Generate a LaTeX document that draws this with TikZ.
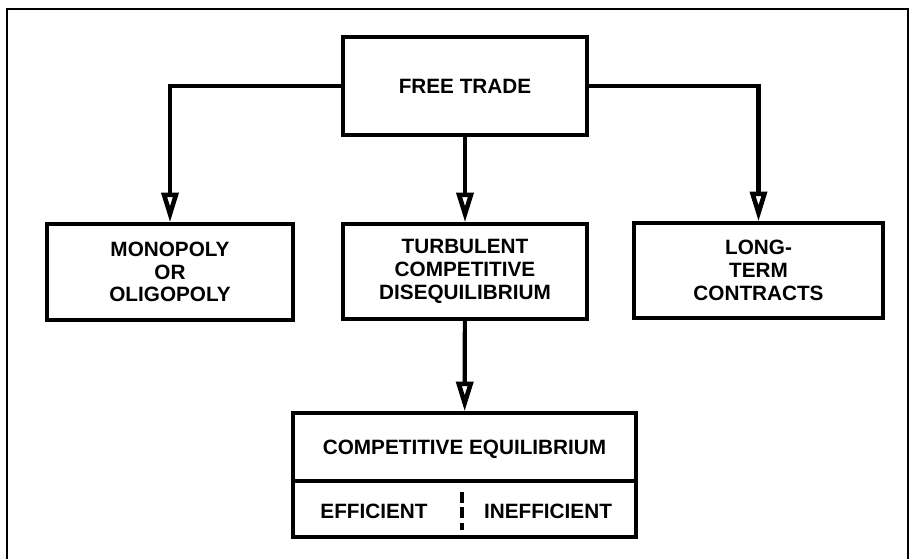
\documentclass[tikz,border=0pt]{standalone}
\usepackage{fontspec}
\setmainfont{Liberation Sans}
\usepackage{tikz}
\usetikzlibrary{arrows, arrows.meta}
\tikzset{block/.style = {shape = rectangle, draw, line width = 1.8pt, align = center, font = \bfseries\fontsize{11.8}{13}\selectfont}}
\tikzset{label/.style = {font = \bfseries\fontsize{11.8}{13}\selectfont}}
\tikzset{edge/.style = {line width = 2.4pt, -{Triangle[open, length = 17pt, width = 9.5pt, line width = 2.6pt]}}}
\tikzset{frame/.style = {line width = 1.6pt}}

\begin{document}
\begin{tikzpicture}[x = 0.02cm, y = -0.02cm]
				\useasboundingbox (0, 0) rectangle (912, 559);
				\coordinate (fa) at (7, 559);
				\coordinate (fb) at (908, 559);
				\draw[frame] (fa) |- (908, 9) -- (fb);

				\node[block, minimum width = 4.88cm, minimum height = 1.96cm] (trade) at (465, 86) {FREE TRADE};
				\node[block, minimum width = 4.92cm, minimum height = 1.92cm] (mono) at (170, 272) {MONOPOLY\\OR\\OLIGOPOLY};
				\node[block, minimum width = 4.88cm, minimum height = 1.9cm] (turb) at (465, 271.5) {TURBULENT\\COMPETITIVE\\DISEQUILIBRIUM};
				\node[block, minimum width = 4.98cm, minimum height = 1.9cm] (long) at (758.5, 270.5) {LONG-\\TERM\\CONTRACTS};
				\node[block, minimum width = 6.86cm, minimum height = 2.48cm] (equi) at (464.5, 475) {};

				\node[label] (title) at (464.5, 449) {COMPETITIVE EQUILIBRIUM};
				\node[label] (eff) at (374, 511) {EFFICIENT};
				\node[label] (ineff) at (548, 511) {INEFFICIENT};
				\coordinate (split) at (464.5, 481);
				\coordinate (dtop) at (462, 492);
				\coordinate (dbot) at (462, 530);

				\draw[edge] (trade.west) -| (mono.north);
				\draw[edge] (trade.east) -| (long.north);
				\draw[edge] (trade) to (turb);
				\draw[edge] (turb) to (equi);
				\draw[line width = 1.8pt] (equi.west |- split) to (equi.east |- split);
				\draw[line width = 2.2pt, dash pattern = on 6pt off 2.8pt] (dtop) to (dbot);
			\end{tikzpicture}
\end{document}
